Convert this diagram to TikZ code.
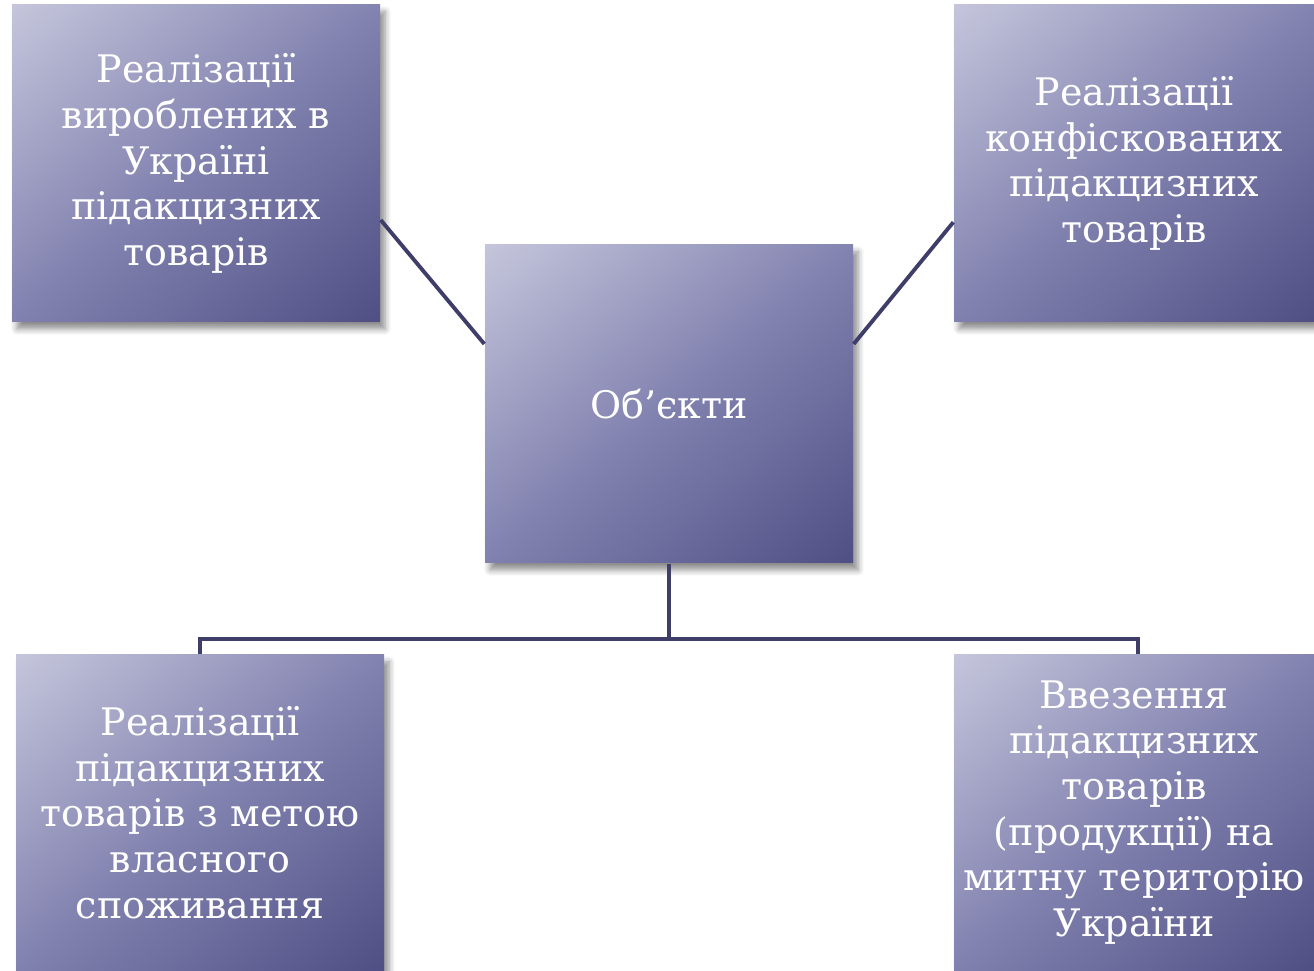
\documentclass[tikz,border=0pt]{standalone}
\usepackage{fontspec}
\setmainfont{DejaVu Serif}
\usepackage{tikz}
\usetikzlibrary{shadows.blur}

\definecolor{boxlight}{RGB}{198,199,220}
\definecolor{boxmid}{RGB}{130,130,176}
\definecolor{boxdark}{RGB}{78,78,132}
\definecolor{linkcol}{RGB}{62,62,104}
\pgfdeclareverticalshading{objshade}{100bp}{color(0bp)=(boxdark); color(14bp)=(boxdark);
    color(50bp)=(boxmid); color(86bp)=(boxlight); color(100bp)=(boxlight)}

\tikzset{
    objbox/.style={rectangle, shading=objshade, shading angle=40, text=white, align=center,
        inner sep=0pt, font=\fontsize{10.8}{13}\selectfont,
        blur shadow={shadow xshift=0.5mm, shadow yshift=-0.7mm, shadow blur steps=6,
            shadow blur radius=0.6mm, shadow opacity=45}},
    link/.style={draw=linkcol, line width=1.1pt}
}

\begin{document}
\begin{tikzpicture}
        \useasboundingbox (0, 0) rectangle (13.14, 9.70);
        \node[objbox, minimum width=3.68cm, minimum height=3.17cm] (tl) at (1.96, 8.065)
            {Реалізації\\вироблених в\\Україні\\підакцизних\\товарів};
        \node[objbox, minimum width=3.60cm, minimum height=3.17cm] (tr) at (11.34, 8.065)
            {Реалізації\\конфіскованих\\підакцизних\\товарів};
        \node[objbox, minimum width=3.68cm, minimum height=3.18cm] (obj) at (6.69, 5.66)
            {Об’єкти};
        \node[objbox, minimum width=3.68cm, minimum height=3.15cm] (bl) at (2.00, 1.575)
            {Реалізації\\підакцизних\\товарів з метою\\власного\\споживання};
        \node[objbox, minimum width=3.60cm, minimum height=3.15cm] (br) at (11.34, 1.575)
            {Ввезення\\підакцизних\\товарів\\(продукції) на\\митну територію\\України};
        \draw[link] (tl.-17) -- (obj.162);
        \draw[link] (obj.18) -- (tr.198);
        \draw[link] (obj.south) -- ++(0, -0.75) -| (bl.north);
        \draw[link] (obj.south) -- ++(0, -0.75) -| ([xshift=0.04cm]br.north);
    \end{tikzpicture}
\end{document}
